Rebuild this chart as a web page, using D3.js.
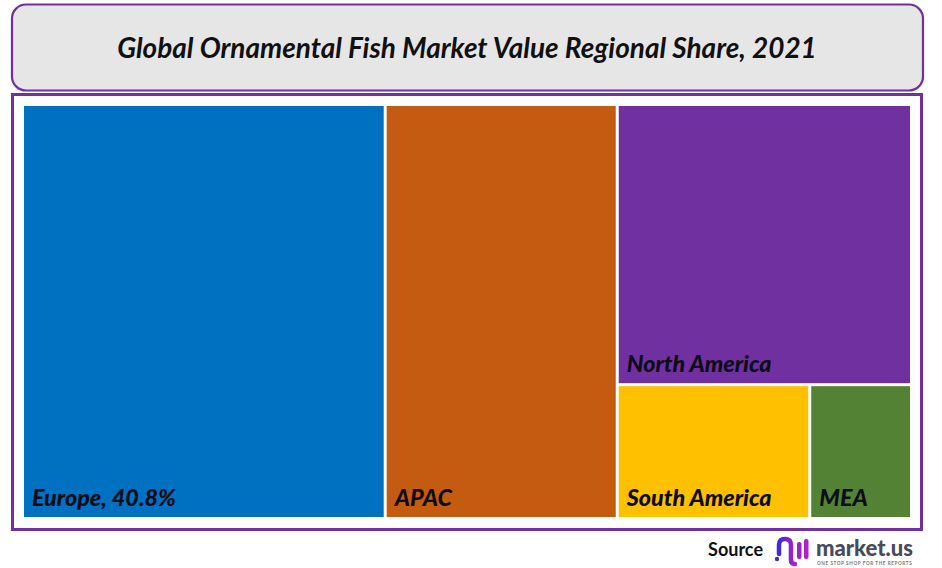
<!DOCTYPE html>
<html><head><meta charset="utf-8">
<script src="https://cdn.jsdelivr.net/npm/d3@7"></script>
<style>html,body{margin:0;padding:0;background:#fff;}svg{display:block;}</style>
</head><body>
<svg id="chart" width="942" height="568"></svg>
<script>
const title = "Global Ornamental Fish Market Value Regional Share, 2021";
const regions = ["Europe", "APAC", "North America", "South America", "MEA"];
const shares = [40.8, 26.1, 22.4, 7.0, 3.7];
const labels = ["Europe, 40.8%", "APAC", "North America", "South America", "MEA"];
const colors = ["#0070C0", "#C55A11", "#7030A0", "#FFC000", "#548235"];

const svg = d3.select("#chart");
const purple = "#7030A0";
const font = "Lato, 'Open Sans', sans-serif";

// title box
svg.append("rect").attr("x", 12).attr("y", 4.5).attr("width", 911).attr("height", 86)
  .attr("rx", 14).attr("fill", "#e7e6e6").attr("stroke", purple).attr("stroke-width", 2.2);
const t = svg.append("text").attr("x", 467).attr("y", 58).attr("text-anchor", "middle")
  .attr("font-family", font).attr("font-style", "italic").attr("font-weight", 700)
  .attr("font-size", 24).attr("fill", "#111").text(title);
const tw = t.node().getComputedTextLength();
t.attr("font-size", 24 * 700 / tw);

// frame
svg.append("rect").attr("x", 12.5).attr("y", 94.5).attr("width", 909).attr("height", 435)
  .attr("fill", "#fff").attr("stroke", purple).attr("stroke-width", 3);

// hierarchy: Europe | APAC | [North America / [South America | MEA]]
const leaves = regions.map((r, i) => ({name: r, value: shares[i], label: labels[i], color: colors[i]}));
const data = {name: "root", children: [
  leaves[0], leaves[1],
  {name: "rest", children: [leaves[2], {name: "bottom", children: [leaves[3], leaves[4]]}]}
]};
const root = d3.hierarchy(data).sum(d => d.children ? 0 : d.value);
d3.treemap().tile(d3.treemapSliceDice).size([886, 411]).paddingInner(3).round(false)(root);

const g = svg.append("g").attr("transform", "translate(24,106)");
const cells = g.selectAll("g.cell").data(root.leaves()).join("g").attr("class", "cell");
cells.append("rect")
  .attr("x", d => d.x0).attr("y", d => d.y0)
  .attr("width", d => d.x1 - d.x0).attr("height", d => d.y1 - d.y0)
  .attr("fill", d => d.data.color);
const lbl = cells.append("text")
  .attr("x", d => d.x0 + 8).attr("y", d => d.y1 - 11)
  .attr("font-family", font).attr("font-style", "italic").attr("font-weight", 900)
  .attr("font-size", 20).attr("fill", "#0d0d1a")
  .text(d => d.data.label);
// scale label font so "Europe, 40.8%" matches the reference width
const ew = lbl.filter(d => d.data.name === "Europe").node().getComputedTextLength();
lbl.attr("font-size", 20 * 144 / ew);

// source
svg.append("text").attr("x", 763).attr("y", 556).attr("text-anchor", "end")
  .attr("font-family", font).attr("font-weight", 700).attr("font-size", 18).attr("fill", "#111").text("Source");
const lg = svg.append("g").attr("transform", "translate(775,536)");
const grad = svg.append("defs").append("linearGradient").attr("id", "lgrad").attr("x1", 0).attr("x2", 1);
grad.append("stop").attr("offset", "0%").attr("stop-color", "#3d2bd6");
grad.append("stop").attr("offset", "100%").attr("stop-color", "#b01fc9");
lg.append("path").attr("d", "M4,18 L4,9 Q4,3 10,3 Q16,3 16,9 L16,24 Q16,28 20,28")
  .attr("fill", "none").attr("stroke", "url(#lgrad)").attr("stroke-width", 4.5).attr("stroke-linecap", "round");
lg.append("circle").attr("cx", 2).attr("cy", 23).attr("r", 2.2).attr("fill", "#3d2bd6");
lg.append("rect").attr("x", 22).attr("y", 6).attr("width", 4.5).attr("height", 17).attr("rx", 2).attr("fill", "#a020c8");
lg.append("rect").attr("x", 29).attr("y", 3).attr("width", 4.5).attr("height", 20).attr("rx", 2).attr("fill", "#b01fc9");
svg.append("text").attr("x", 816).attr("y", 556)
  .attr("font-family", font).attr("font-weight", 900).attr("font-size", 22).attr("fill", "#4a4a5e").text("market.us");
svg.append("text").attr("x", 817).attr("y", 564.5)
  .attr("font-family", font).attr("font-weight", 700).attr("font-size", 4.6).attr("letter-spacing", 0.6).attr("fill", "#777").text("ONE STOP SHOP FOR THE REPORTS");
</script>
</body></html>
